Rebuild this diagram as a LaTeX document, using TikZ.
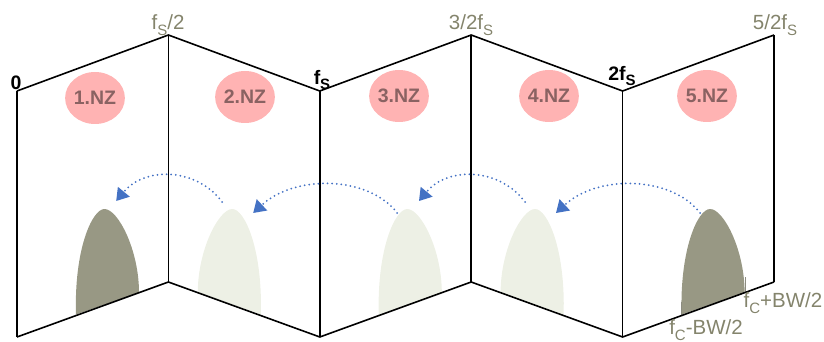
\documentclass[tikz,border=0pt]{standalone}
\usepackage{fontspec}
\setmainfont{Liberation Sans}
\usetikzlibrary{arrows.meta,calc,shapes.geometric}
\definecolor{lblgray}{HTML}{84846C}
\definecolor{darkhump}{HTML}{989884}
\definecolor{lighthump}{HTML}{EDF0E5}
\definecolor{nzpink}{HTML}{FFB3B3}
\definecolor{nztext}{HTML}{8A6262}
\definecolor{arrblue}{HTML}{4472C4}
\definecolor{tickgray}{HTML}{8C8C80}
\newcommand{\subS}[1]{\raisebox{-0.28em}{\fontsize{15}{15}\selectfont #1}}
\newcommand{\humpat}[3]{%
  \begin{scope}[shift={(#1,0)},xscale=#2]
    \fill[#3] (59,314.5) .. controls (57,250) and (75,209) .. (87.5,209)
      .. controls (101,209) and (122,250) .. (122,292.5) -- cycle;
  \end{scope}}
\tikzset{
  frame/.style={line width=1.6pt, line join=miter},
  nz/.style={ellipse, fill=nzpink, minimum width=58pt, minimum height=52pt, inner sep=0pt,
    text=nztext, font=\fontsize{19.5}{19.5}\selectfont\bfseries},
  graylbl/.style={text=lblgray, font=\fontsize{20.5}{20.5}\selectfont, inner sep=0pt},
  blacklbl/.style={text=black, font=\fontsize{19.5}{19.5}\selectfont\bfseries, inner sep=0pt},
  fold/.style={arrblue, line width=2pt, dash pattern=on 0pt off 4.6pt, line cap=round,
    -{Triangle[width=15pt,length=12pt,line cap=butt,sep=0pt]}},
  tick/.style={tickgray, line width=1.4pt}
}
\begin{document}
\begin{tikzpicture}[x=1pt,y=-1pt]
\useasboundingbox (0,0) rectangle (824,342);
% humps
\humpat{17}{1}{darkhump}
\humpat{319.8}{-1}{lighthump}
\humpat{319.8}{1}{lighthump}
\humpat{622.6}{-1}{lighthump}
\humpat{622.6}{1}{darkhump}
% ticks at panel 5
\draw[tick] (681.6,315) -- (681.6,302);
\draw[tick] (745.6,292) -- (745.6,277);
% frame coordinates
\coordinate (t0) at (17,91);
\coordinate (t1) at (168.4,35);
\coordinate (t2) at (319.8,91);
\coordinate (t3) at (471.2,35);
\coordinate (t4) at (622.6,91);
\coordinate (t5) at (774,35);
\coordinate (b0) at (17,337);
\coordinate (b1) at (168.4,282);
\coordinate (b2) at (319.8,337);
\coordinate (b3) at (471.2,282);
\coordinate (b4) at (622.6,337);
\coordinate (b5) at (774,282);
\draw[frame] (t0) -- (t1) -- (t2) -- (t3) -- (t4) -- (t5);
\draw[frame] (b0) -- (b1) -- (b2) -- (b3) -- (b4) -- (b5);
\foreach \i in {0,...,5} \draw[frame] (t\i) -- (b\i);
% zone labels
\node[nz] (nz1) at (95,98) {1.NZ};
\node[nz] (nz2) at (245,97) {2.NZ};
\node[nz] (nz3) at (399,96) {3.NZ};
\node[nz] (nz4) at (549,96) {4.NZ};
\node[nz] (nz5) at (707,96) {5.NZ};
% frequency labels
\node[blacklbl] (l0) at (16,83) {0};
\node[graylbl] (l1) at (168,25) {f\subS{S}/2};
\node[blacklbl] (l2) at (322,80) {f\subS{S}};
\node[graylbl] (l3) at (471,25) {3/2f\subS{S}};
\node[blacklbl] (l4) at (622,76) {2f\subS{S}};
\node[graylbl] (l5) at (775,25) {5/2f\subS{S}};
\node[graylbl] (lhi) at (783,303) {f\subS{C}+BW/2};
\node[graylbl] (llo) at (706,330) {f\subS{C}-BW/2};
% arrow end points
\coordinate (s5) at (700,213);
\coordinate (e5) at (556,213);
\coordinate (s4) at (525,202);
\coordinate (e4) at (419,201);
\coordinate (s3) at (397.2,213);
\coordinate (e3) at (253.2,213);
\coordinate (s2) at (222.2,202);
\coordinate (e2) at (116.2,201);
\draw[fold] (s5) .. controls (672,176) and (598,174) .. (e5);
\draw[fold] (s4) .. controls (500,168) and (448,166) .. (e4);
\draw[fold] (s3) .. controls (369.2,176) and (295.2,174) .. (e3);
\draw[fold] (s2) .. controls (197.2,168) and (145.2,166) .. (e2);
\end{tikzpicture}
\end{document}
